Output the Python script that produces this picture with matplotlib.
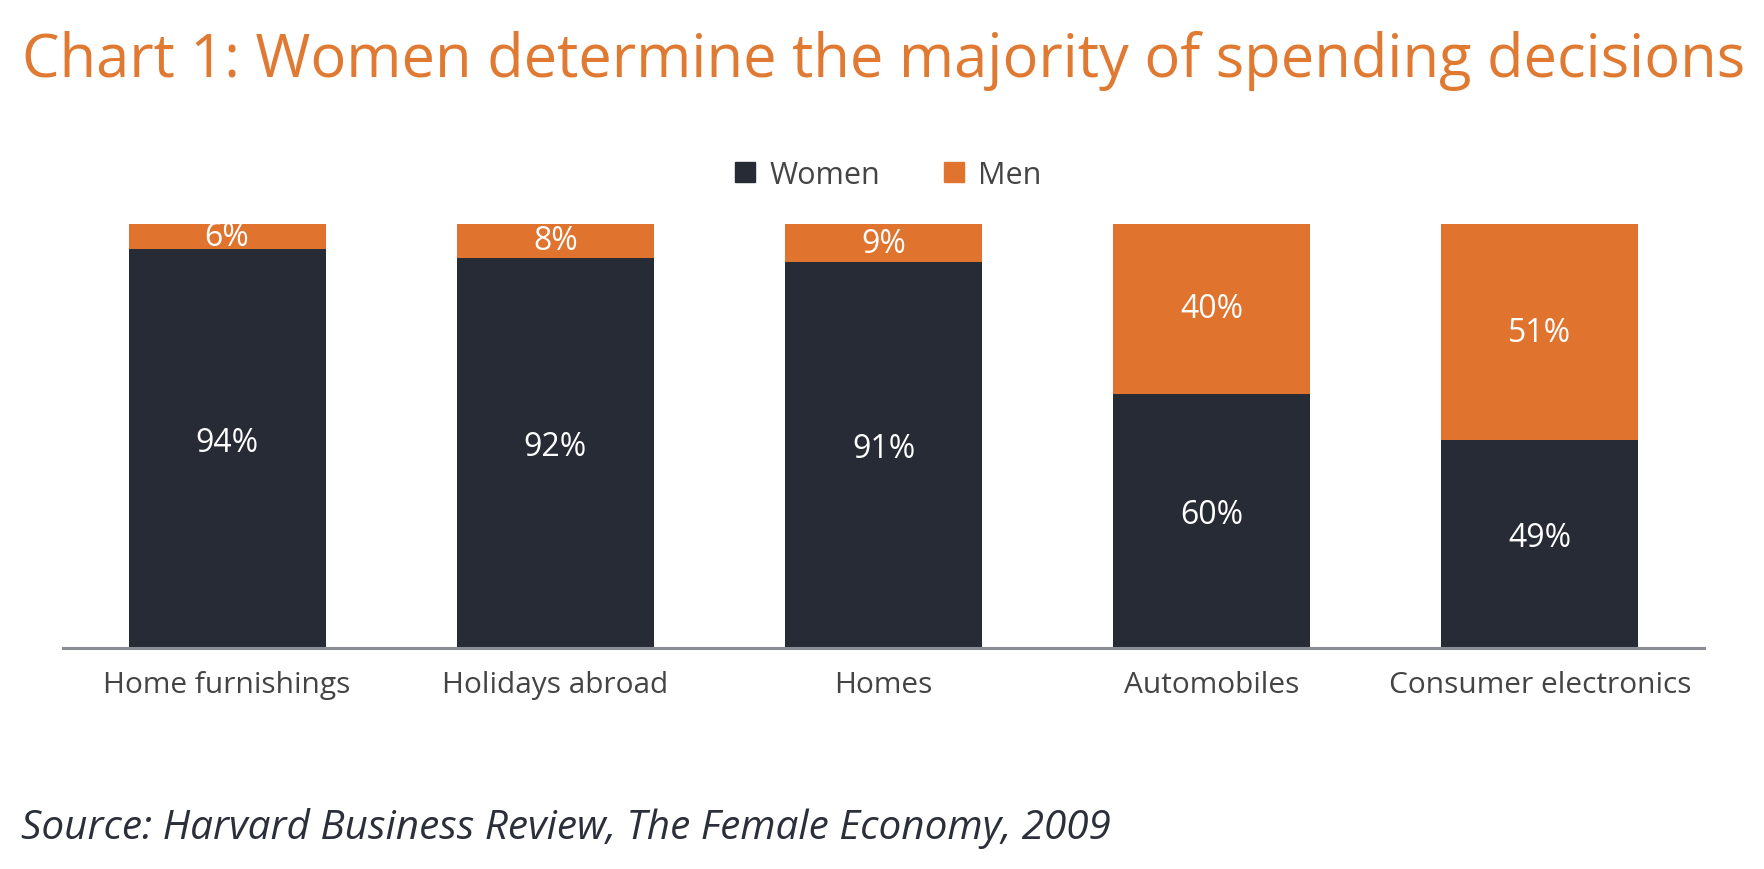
import matplotlib
matplotlib.use("Agg")
import matplotlib.pyplot as plt
from matplotlib.lines import Line2D
import numpy as np

categories = ["Home furnishings", "Holidays abroad", "Homes", "Automobiles", "Consumer electronics"]
women = [94, 92, 91, 60, 49]
men = [6, 8, 9, 40, 51]
series_names = ["Women", "Men"]

title_text = "Chart 1: Women determine the majority of spending decisions"
source_text = "Source: Harvard Business Review, The Female Economy, 2009"

DARK = "#272b36"
ORANGE = "#e0742f"
TITLE_ORANGE = "#e07a32"
TEXT_GRAY = "#444444"

plt.rcParams['font.family'] = ['Open Sans', 'DejaVu Sans']

W, H = 1764, 870
fig = plt.figure(figsize=(W / 100, H / 100), dpi=100)
ax = fig.add_axes([63 / W, 1 - 649 / H, (1704 - 63) / W, (649 - 225) / H])

x = np.arange(len(categories))
ax.bar(x, women, width=0.6, color=DARK, label=series_names[0], zorder=2)
ax.bar(x, men, width=0.6, bottom=women, color=ORANGE, label=series_names[1], zorder=2)

for i in range(len(categories)):
    ax.text(x[i], women[i] / 2 + 1.5, f"{women[i]}%", ha="center", va="center",
            color="white", fontsize=23, zorder=3)
    ax.text(x[i], women[i] + men[i] / 2, f"{men[i]}%", ha="center", va="center",
            color="white", fontsize=23, zorder=3)

ax.set_xlim(-0.5, len(categories) - 0.5)
ax.set_ylim(0, 100)
ax.set_xticks(x)
ax.set_xticklabels(categories, fontsize=21.5, color=TEXT_GRAY)
ax.tick_params(axis="x", length=0, pad=16)
ax.set_yticks([])
for s in ["top", "right", "left"]:
    ax.spines[s].set_visible(False)
ax.spines["bottom"].set_color("#8a8d93")
ax.spines["bottom"].set_linewidth(2.2)
ax.spines["bottom"].set_zorder(4)

# Legend
handles = [Line2D([], [], marker="s", linestyle="none", markersize=15, color=DARK),
           Line2D([], [], marker="s", linestyle="none", markersize=15, color=ORANGE)]
fig.legend(handles, series_names, loc="center", bbox_to_anchor=(0.503, 1 - 176 / H),
           ncol=2, frameon=False, fontsize=22, handlelength=0.8, handletextpad=0.4,
           columnspacing=2.0, labelcolor=TEXT_GRAY)

# Title fitted to width
t = fig.text(22 / W, 1 - 77 / H, title_text, color=TITLE_ORANGE, fontsize=45,
             ha="left", va="baseline")
fig.canvas.draw()
r = fig.canvas.get_renderer()
bb = t.get_window_extent(renderer=r)
target = 1747 - 22
t.set_fontsize(45 * target / bb.width)

fig.text(21 / W, 1 - 839 / H, source_text, color="#2b2f3a", fontsize=29.2,
         fontstyle="italic", ha="left", va="baseline")

fig.savefig("out.png", dpi=100, facecolor="white")
